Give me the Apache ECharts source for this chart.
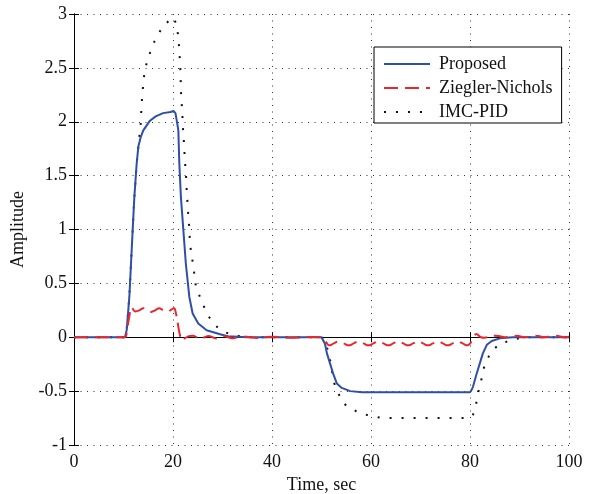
<!DOCTYPE html>
<html><head><meta charset="utf-8">
<script src="https://cdn.jsdelivr.net/npm/echarts@6/dist/echarts.min.js"></script>
<style>html,body{margin:0;padding:0;background:#fff}#c{width:600px;height:494px}</style>
</head><body><div id="c"></div>
<script>
// ---- data ----
var seriesNames = ['Proposed', 'Ziegler-Nichols', 'IMC-PID'];
var xTicks = [0, 20, 40, 60, 80, 100];
var yTicks = [-1, -0.5, 0, 0.5, 1, 1.5, 2, 2.5, 3];

var tProposed = [0,10.3,10.64,11.18,11.52,11.85,12.19,12.66,13.0,13.5,14.0,15.35,16.5,18.0,19.5,20.1,20.5,20.87,21.08,21.28,21.6,22.1,22.6,23.3,23.97,25.1,26.8,29.5,31.1,35,
  50,50.3,50.7,51.1,51.7,52.3,53.1,54.1,55.8,58.2,80,80.3,80.6,81.4,82.0,82.6,83.4,84.4,86,88.7,100];
var yProposed = [0,0,0.065,0.374,0.684,0.993,1.30,1.61,1.77,1.86,1.92,2.01,2.05,2.08,2.09,2.1,2.08,1.98,1.92,1.61,1.30,0.99,0.68,0.374,0.22,0.127,0.065,0.028,0.01,0,
  0,-0.01,-0.06,-0.15,-0.24,-0.33,-0.43,-0.47,-0.5,-0.51,-0.51,-0.49,-0.46,-0.33,-0.24,-0.15,-0.07,-0.035,-0.01,0,0];

var tIMC = [0,10.3,10.64,11.18,11.52,11.85,12.19,12.66,13.0,13.2,13.47,13.67,13.87,14.07,14.34,15.0,15.7,16.7,17.8,19.4,19.9,20.3,20.7,21.0,21.2,21.35,21.48,21.55,21.6,21.75,21.9,22.0,22.15,
  22.4,22.6,22.8,22.96,23.1,23.3,23.4,23.6,23.97,24.3,24.6,25.3,26.1,27.1,28.5,30.3,32.5,36,
  50,50.5,51.1,51.7,52.1,52.5,53.3,54.3,56.2,58.2,60.5,62.4,78.6,80,80.6,81.2,81.6,82.2,82.6,83.4,84.4,86,88.3,90.5,100];
var yIMC = [0,0,0.065,0.374,0.684,0.993,1.30,1.61,1.77,1.86,1.98,2.17,2.29,2.39,2.49,2.59,2.69,2.79,2.87,2.95,2.97,2.96,2.91,2.81,2.71,2.6,2.49,2.39,2.28,2.17,2.06,1.95,1.86,
  1.64,1.53,1.33,1.23,1.12,1.01,0.9,0.81,0.70,0.59,0.48,0.39,0.30,0.20,0.11,0.05,0.015,0,
  0,-0.02,-0.09,-0.2,-0.31,-0.42,-0.51,-0.61,-0.67,-0.71,-0.735,-0.75,-0.75,-0.745,-0.72,-0.63,-0.52,-0.42,-0.31,-0.21,-0.13,-0.06,-0.03,0,0];

var tZN = [0,10.3,10.7,11.2,11.6,12.4,13.2,14.0,14.8,15.6,16.4,17.2,18.0,18.8,19.6,20.2,20.6,21.0,21.4,21.8,22.4,23.2,24.0,24.8,25.6,26.4,27.2,28.0,28.8,29.6,30.4,31.2,32,33,34,35.5,37,38.5,40,42,44,46,48,
  50,50.5,51,51.5,52.5,53.5,54.5,55.5,56.5,57.5,58.5,59.5,60.5,61.5,62.5,63.5,64.5,65.5,66.5,67.5,68.5,69.5,70.5,71.5,72.5,73.5,74.5,75.5,76.5,77.5,78.5,79.5,
  80,80.5,81.3,82.2,83,84,85,86,87,88,89,90,91,92,93,94,95,96,97,98,99,100];
var yZN = [0,0,0.07,0.2,0.28,0.24,0.25,0.27,0.25,0.235,0.25,0.27,0.25,0.235,0.255,0.27,0.22,0.12,0.02,-0.03,-0.01,0.01,0.015,0,-0.015,0,0.012,0,-0.012,0,0.01,0,-0.01,0,0.008,0,-0.006,0,0.005,0,-0.004,0,0.003,
  0,-0.02,-0.05,-0.075,-0.057,-0.038,-0.057,-0.075,-0.057,-0.038,-0.057,-0.075,-0.057,-0.038,-0.057,-0.075,-0.057,-0.038,-0.057,-0.075,-0.057,-0.038,-0.057,-0.075,-0.057,-0.038,-0.057,-0.075,-0.057,-0.038,-0.057,-0.075,
  -0.06,-0.02,0.03,0.0,-0.005,0.01,0.015,0.01,0,0.005,0.015,0.01,0,0.005,0.015,0.01,0,0.005,0.015,0.01,0,0.005];

function zip(t, y) { return t.map(function (v, i) { return [v, y[i]]; }); }

var FONT = '"Liberation Serif", "DejaVu Serif", serif';
var FS = 18;
var chart = echarts.init(document.getElementById('c'), null, { renderer: 'canvas' });

var frameAxis = { show: true, lineStyle: { color: '#000', width: 1 } };
var tickIn = { show: true, inside: true, length: 5, lineStyle: { color: '#000' } };
var gridLine = { show: true, lineStyle: { color: '#333', width: 1, type: [1, 5.5] } };

chart.setOption({
  animation: false,
  backgroundColor: '#fff',
  grid: { left: 74, right: 31, top: 14, bottom: 49, containLabel: false, outerBoundsMode: 'none' },
  legend: {
    data: seriesNames,
    orient: 'vertical',
    left: 374, top: 47,
    backgroundColor: '#fff',
    borderColor: '#000', borderWidth: 1, borderRadius: 0,
    padding: [8, 9, 2, 9],
    itemWidth: 46, itemHeight: 14, itemGap: 6,
    itemStyle: { opacity: 0 },
    textStyle: { fontFamily: FONT, fontSize: FS, color: '#111', padding: [0, 0, 0, 4] }
  },
  xAxis: [{
    type: 'value', min: 0, max: 100, interval: 20,
    name: 'Time, sec', nameLocation: 'middle', nameGap: 25,
    nameTextStyle: { fontFamily: FONT, fontSize: FS, color: '#111' },
    axisLine: frameAxis, axisTick: tickIn, splitLine: gridLine,
    axisLabel: { fontFamily: FONT, fontSize: FS, color: '#111', margin: 8,
      formatter: function (v) { return xTicks.indexOf(v) >= 0 ? String(v) : ''; } }
  }, {
    type: 'value', min: 0, max: 100, interval: 20, position: 'top',
    axisLine: frameAxis, axisTick: tickIn, splitLine: { show: false }, axisLabel: { show: false }
  }],
  yAxis: [{
    type: 'value', min: -1, max: 3, interval: 0.5,
    name: 'Amplitude', nameLocation: 'middle', nameGap: 40,
    nameTextStyle: { fontFamily: FONT, fontSize: FS, color: '#111' },
    axisLine: frameAxis, axisTick: tickIn, splitLine: gridLine,
    axisLabel: { fontFamily: FONT, fontSize: FS, color: '#111', margin: 7,
      formatter: function (v) { return yTicks.indexOf(v) >= 0 ? String(v) : ''; } }
  }, {
    type: 'value', min: -1, max: 3, interval: 0.5, position: 'right',
    axisLine: frameAxis, axisTick: tickIn, splitLine: { show: false }, axisLabel: { show: false }
  }],
  series: [{
    name: seriesNames[0], type: 'line', symbol: 'none', z: 3,
    data: zip(tProposed, yProposed),
    lineStyle: { color: '#2f4fa5', width: 2 }, itemStyle: { color: '#2f4fa5' }
  }, {
    name: seriesNames[1], type: 'line', symbol: 'none', z: 4, smooth: 0.4,
    data: zip(tZN, yZN),
    lineStyle: { color: '#e8262b', width: 2, type: [14, 7] }, itemStyle: { color: '#e8262b' }
  }, {
    name: seriesNames[2], type: 'line', symbol: 'none', z: 2,
    data: zip(tIMC, yIMC),
    lineStyle: { color: '#111', width: 2, type: [2, 10] }, itemStyle: { color: '#111' }
  }]
});
</script></body></html>
